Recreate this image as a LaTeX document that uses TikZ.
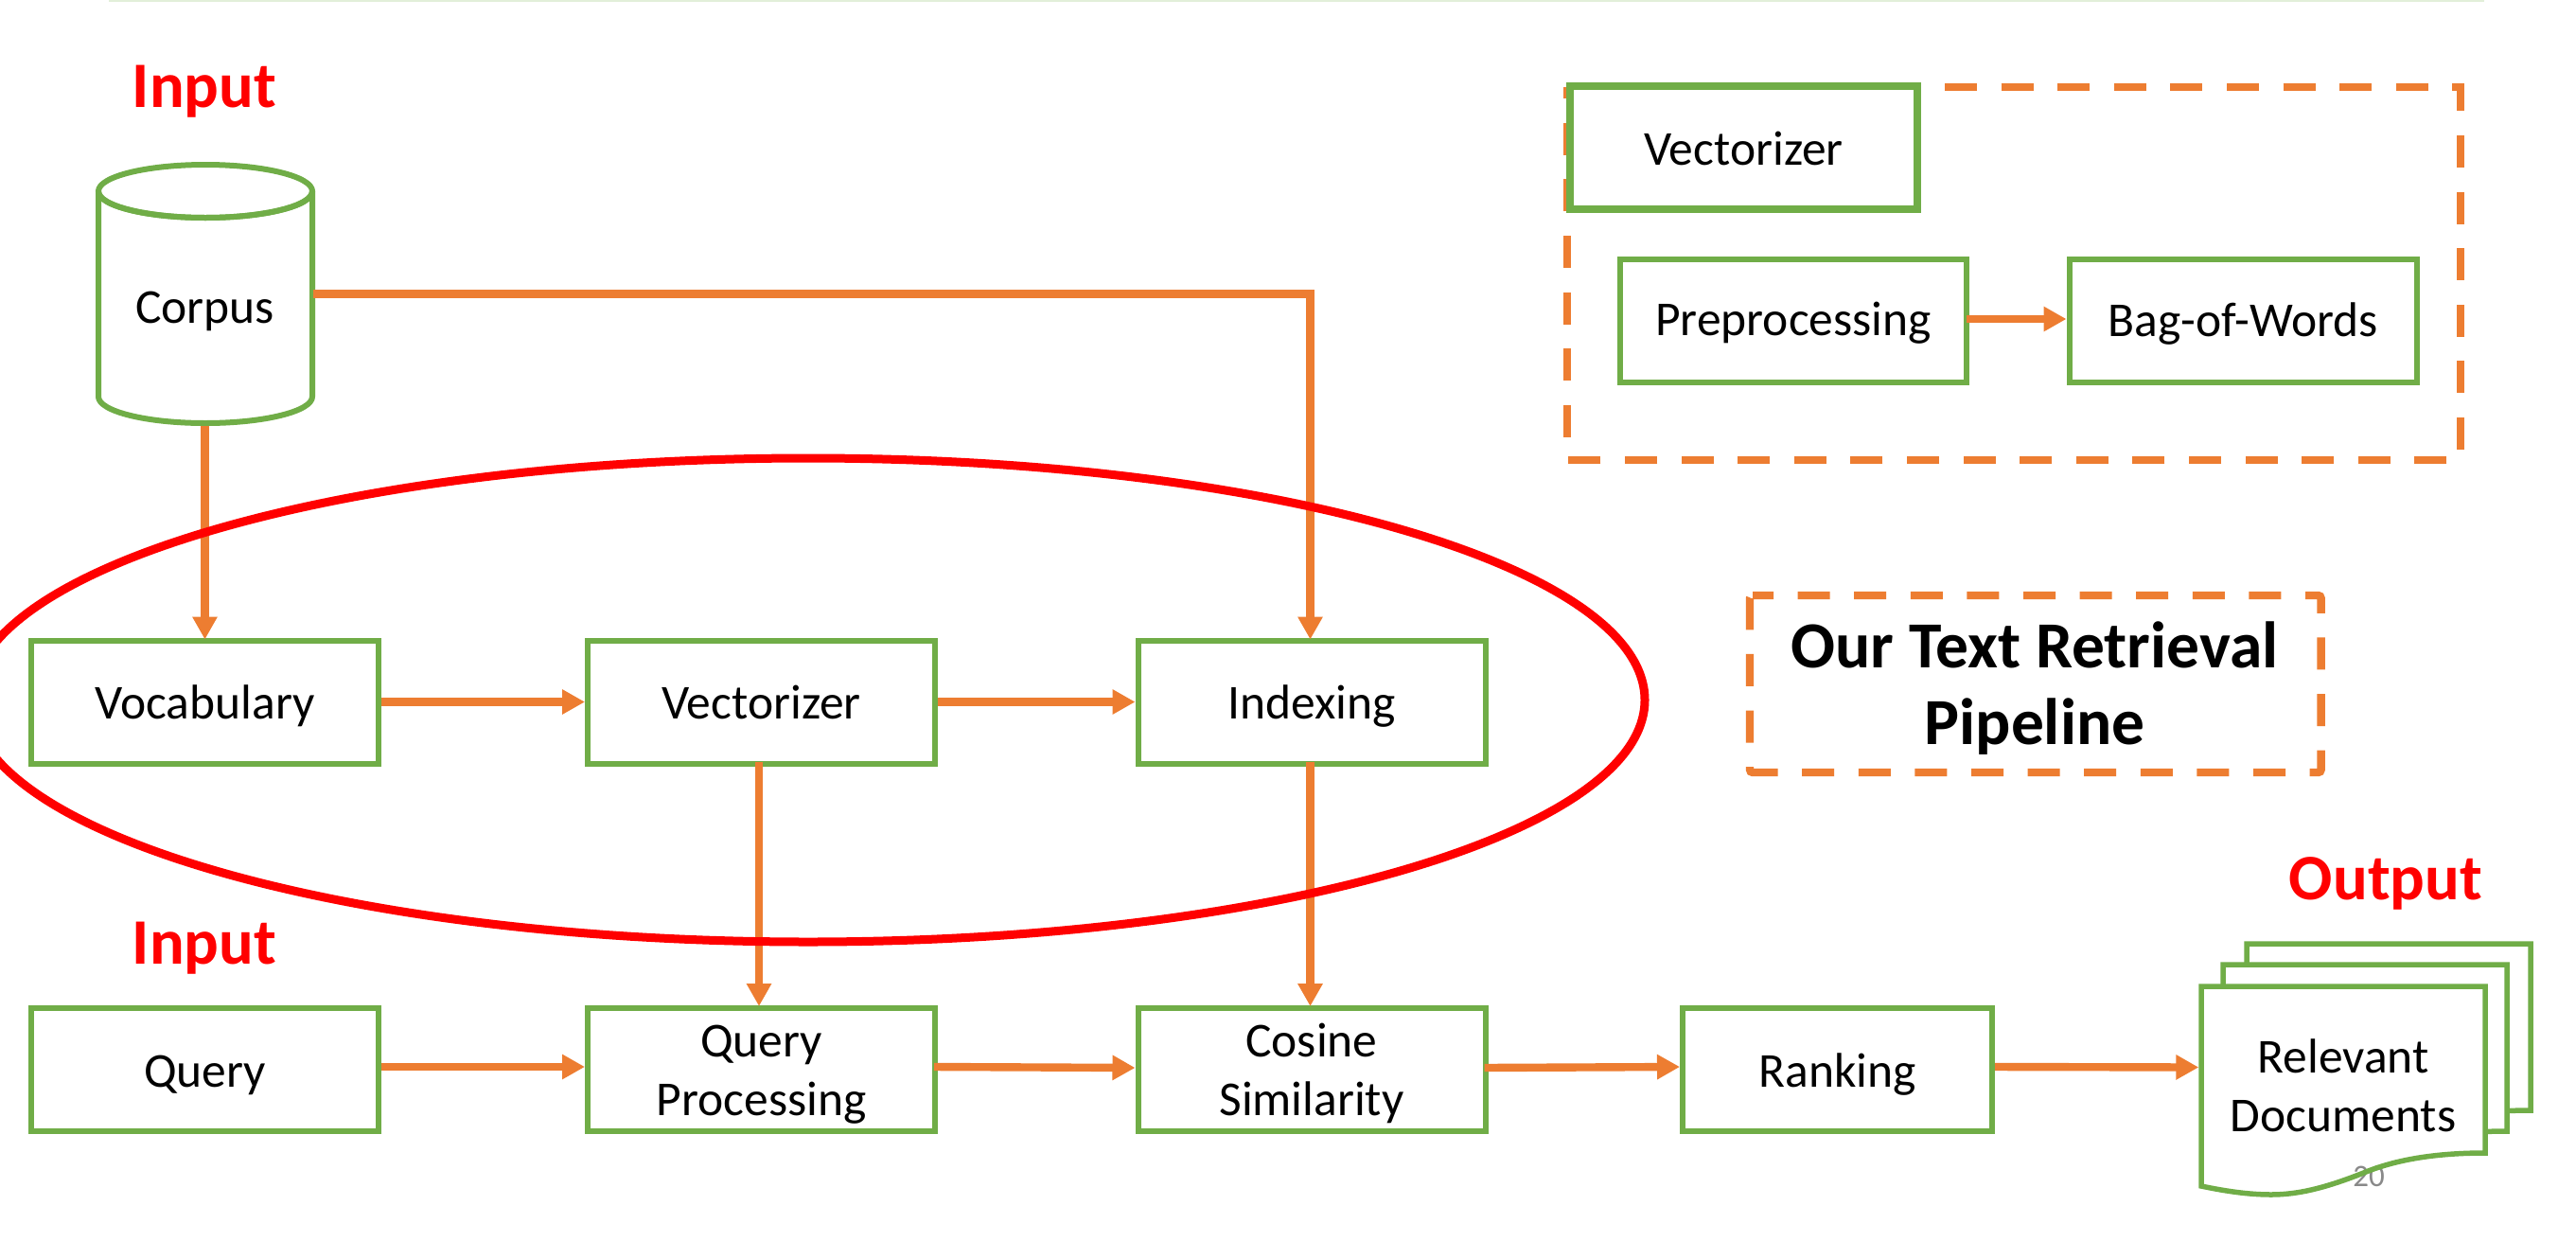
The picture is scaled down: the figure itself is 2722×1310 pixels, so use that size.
\documentclass[tikz,border=0pt]{standalone}
\usepackage{fontspec}
\setmainfont{Carlito}
\usetikzlibrary{arrows.meta}
\definecolor{grn}{HTML}{70AD47}
\definecolor{org}{HTML}{ED7D31}
\definecolor{topline}{HTML}{E2EFD9}
\definecolor{pagegray}{HTML}{898989}
\newcommand{\tworows}[2]{\makebox[0pt]{\raisebox{62pt}[0pt][0pt]{#1}}\makebox[0pt]{#2}}
\newcommand{\wavepath}{-- (2626,1042) -- (2626,1218) .. controls (2570,1218) and (2530,1226) .. (2500,1238) .. controls (2460,1254) and (2430,1262) .. (2400,1262) .. controls (2375,1262) and (2350,1258) .. (2326,1253) -- cycle}
\tikzset{
  x=1pt,y=-1pt,
  boxtext/.style={font=\fontsize{51.5pt}{62pt}\selectfont,text=black,inner sep=0pt,text height=36pt,text depth=0pt},
  greenbox/.style={boxtext,draw=grn,fill=white,line width=6pt,minimum width=367pt,minimum height=130pt},
  tworow/.style={text height=96pt},
  plain/.style={boxtext,line width=5.5pt},
  redlabel/.style={font=\fontsize{68.5pt}{80pt}\selectfont\bfseries,text=red,inner sep=0pt,anchor=base},
  conn/.style={draw=org,line width=8.4pt,-{Triangle[length=24pt,width=25pt]}},
  dashedframe/.style={draw=org,line width=8.4pt,dash pattern=on 34pt off 25.6pt},
  docsheet/.style={draw=grn,fill=white,line width=5.5pt,line join=miter},
}
\begin{document}
\begin{tikzpicture}
\useasboundingbox (0,0) rectangle (2722,1310);
\fill[white] (0,0) rectangle (2722,1310);
\draw[topline,line width=2pt] (115,1) -- (2625,1);

% cylinder
\draw[grn,line width=6pt,line join=round,fill=white] (104,202) -- (104,419) arc[start angle=180,end angle=0,x radius=113,y radius=28] -- (330,202) arc[start angle=0,end angle=180,x radius=113,y radius=28] -- cycle;
\draw[grn,line width=6pt] (217,202) ellipse[x radius=113,y radius=28];
\node[plain,text height=61pt,minimum width=226pt,minimum height=273pt] (corpus) at (216.5,310.5) {Corpus};

% labels
\node[redlabel] (input1) at (216,113) {Input};
\node[redlabel] (input2) at (216,1018) {Input};
\node[redlabel] (output) at (2521,950) {Output};

% first row
\node[greenbox] (vocab) at (216.5,741.5) {Vocabulary};
\node[greenbox] (vect) at (804.5,741.5) {Vectorizer};
\node[greenbox] (index) at (1386,741.5) {Indexing};

% second row
\node[greenbox] (query) at (216.5,1130) {Query};
\node[greenbox,tworow] (qproc) at (804.5,1130) {\tworows{Query}{Processing}};
\node[greenbox,tworow] (cosine) at (1386,1130) {\tworows{Cosine}{Similarity}};
\node[greenbox,minimum width=327pt] (rank) at (1941.5,1130) {Ranking};

% documents
\begin{scope}[shift={(48,-45)}]
\draw[docsheet] (2326,1042) \wavepath;
\end{scope}
\begin{scope}[shift={(23,-23)}]
\draw[docsheet] (2326,1042) \wavepath;
\end{scope}
\fill[white] (2326,1042) \wavepath;
\node[font=\fontsize{33pt}{40pt}\selectfont,text=pagegray,inner sep=0pt,anchor=base] (pagenum) at (2503,1253) {20};
\draw[docsheet,fill=none] (2326,1042) \wavepath;
\node[plain,text height=96pt,minimum width=300pt,minimum height=211pt] (docs) at (2476,1147.5) {\tworows{Relevant}{Documents}};

% vectorizer inset
\draw[dashedframe,dash phase=18.2pt] (1656,92) -- (2600,92) -- (2600,486) -- (1656,486) -- cycle;
\node[greenbox,line width=8pt,minimum height=130pt] (vect2) at (1842.5,156) {Vectorizer};
\node[greenbox,text height=31pt,minimum width=366pt] (pre) at (1895,339) {Preprocessing};
\node[greenbox,text height=33pt] (bow) at (2370,339) {Bag-of-Words};

% title
\draw[dashedframe,dash phase=12pt,rounded corners=3pt] (1849,629) -- (2452.6,629) -- (2452.6,816) -- (1849,816) -- cycle;
\node[font=\fontsize{69.5pt}{81pt}\selectfont\bfseries,text=black,inner sep=0pt,anchor=base] (title) at (2150,705) {Our Text Retrieval};
\node[font=\fontsize{69.5pt}{81pt}\selectfont\bfseries,text=black,inner sep=0pt,anchor=base] (title2) at (2150,786) {Pipeline};

% connectors
\draw[conn] ([xshift=-1pt]corpus.east) -| ([xshift=-1.5pt,yshift=-2pt]index.north);
\draw[conn] (corpus.south) -- ([yshift=-2pt]corpus.south |- vocab.north);
\draw[conn] (vocab.east) -- (vect.west);
\draw[conn] (vect.east) -- (index.west);
\draw[conn] ([xshift=-2.5pt,yshift=5pt]vect.south) -- ([xshift=-2.5pt,yshift=-1pt]qproc.north);
\draw[conn] ([xshift=-1.5pt,yshift=5pt]index.south) -- ([xshift=-1.5pt,yshift=-1pt]cosine.north);
\draw[conn] ([yshift=3pt]query.east) -- ([yshift=3pt]qproc.west);
\draw[conn] ([xshift=-4pt,yshift=3pt]qproc.east) -- ([yshift=2pt]cosine.west);
\draw[conn] ([xshift=-4pt,yshift=2pt]cosine.east) -- ([yshift=3pt]rank.west);
\draw[conn] ([yshift=3pt]rank.east) -- ([yshift=20pt]docs.west);
\draw[conn] ([xshift=-3pt,yshift=2pt]pre.east) -- ([yshift=2pt]bow.west);

% red ellipse
\draw[red,line width=9pt] (854,739.5) ellipse[x radius=884,y radius=255.5];
\end{tikzpicture}
\end{document}
